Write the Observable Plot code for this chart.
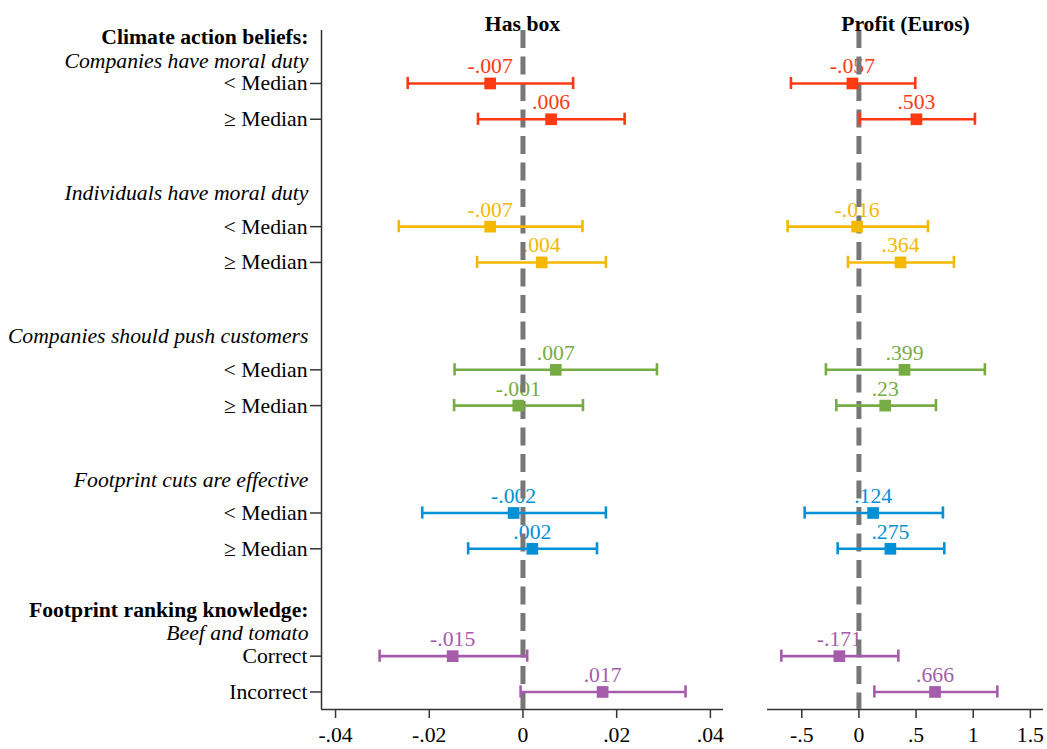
<!DOCTYPE html>
<html><head><meta charset="utf-8">
<script src="https://cdn.jsdelivr.net/npm/d3@7"></script>
<script src="https://cdn.jsdelivr.net/npm/@observablehq/plot@0.6"></script>
<style>
body{margin:0;background:#fff}
#wrap{position:relative;width:1047px;height:749px;background:#fff}
#left{position:absolute;left:0;top:0}
#right{position:absolute;left:740px;top:0}
</style>
</head><body><div id="wrap"><div id="left"></div><div id="right"></div></div>
<script>
// ---- data ----
const panelTitles = ["Has box", "Profit (Euros)"];
const sectionTitles = ["Climate action beliefs:", "Footprint ranking knowledge:"];
const sectionFirstGroup = [0, 4];
const groups = ["Companies have moral duty", "Individuals have moral duty", "Companies should push customers", "Footprint cuts are effective", "Beef and tomato"];
const levels = [["< Median", "≥ Median"], ["< Median", "≥ Median"], ["< Median", "≥ Median"], ["< Median", "≥ Median"], ["Correct", "Incorrect"]];
const groupColors = ["#ff3a12", "#f5b800", "#77ab43", "#0090d6", "#a55dab"];

const boxEst = [-0.007, 0.006, -0.007, 0.004, 0.007, -0.001, -0.002, 0.002, -0.015, 0.017];
const boxLo  = [-0.0246, -0.0096, -0.0265, -0.0098, -0.0146, -0.0147, -0.0215, -0.0117, -0.0306, -0.0005];
const boxHi  = [0.0107, 0.0217, 0.0127, 0.0177, 0.0286, 0.0128, 0.0177, 0.0158, 0.0009, 0.0347];

const profitEst = [-0.057, 0.503, -0.016, 0.364, 0.399, 0.23, 0.124, 0.275, -0.171, 0.666];
const profitLo  = [-0.595, 0.006, -0.624, -0.096, -0.289, -0.198, -0.475, -0.186, -0.679, 0.135];
const profitHi  = [0.493, 1.015, 0.604, 0.831, 1.102, 0.674, 0.735, 0.747, 0.345, 1.211];

const boxTicks = [-0.04, -0.02, 0, 0.02, 0.04];
const profitTicks = [-0.5, 0, 0.5, 1, 1.5];

// ---- layout helpers ----
const FONT = "Liberation Serif, Times New Roman, serif";
const FS = 21.7;
const fmt = v => v === 0 ? "0" : String(v).replace(/^(-?)0\./, "$1.");
const rows = [];
groups.forEach((g, gi) => levels[gi].forEach((lab, li) => rows.push({g: gi, label: lab, u: gi * 4 + li, color: groupColors[gi]})));
const yDomain = [-1.48, 17.49];
const subHeads = [], secHeads = [];
groups.forEach((g, gi) => {
  const hasSection = sectionFirstGroup.includes(gi);
  subHeads.push({text: g, u: gi * 4 + (hasSection ? -0.64 : -0.93)});
  if (hasSection) secHeads.push({text: sectionTitles[sectionFirstGroup.indexOf(gi)], u: gi * 4 - 1.285});
});
const AXC = "#333";

function panel({est, lo, hi, ticks, xDomain, width, marginLeft, marginRight, title, withY}) {
  const data = rows.map((r, i) => ({...r, est: est[i], lo: lo[i], hi: hi[i]}));
  const marks = [
    Plot.ruleY([yDomain[1]], {stroke: AXC, strokeWidth: 1.5}),
    Plot.axisX({ticks, tickFormat: fmt, tickSize: 9, tickPadding: 8, fontSize: FS, stroke: AXC, strokeWidth: 1.5, label: null}),
    Plot.text(data, {x: "est", y: "u", text: d => fmt(d.est), fill: "color", dy: -17, fontSize: FS}),
    Plot.ruleX([0], {stroke: "#777", strokeWidth: 5, strokeDasharray: "18,8.5"}),
    Plot.ruleY(data, {y: "u", x1: "lo", x2: "hi", stroke: "color", strokeWidth: 2.6}),
    Plot.ruleX(data, {x: "lo", y1: d => d.u - 0.17, y2: d => d.u + 0.17, stroke: "color", strokeWidth: 2.6}),
    Plot.ruleX(data, {x: "hi", y1: d => d.u - 0.17, y2: d => d.u + 0.17, stroke: "color", strokeWidth: 2.6}),
    Plot.dot(data, {x: "est", y: "u", symbol: "square", r: 6.6, fill: "color", stroke: "none"}),
    Plot.text([title], {frameAnchor: "top", dy: -15, fontSize: FS, fontWeight: "bold", fill: "#000"})
  ];
  if (withY) {
    marks.unshift(Plot.ruleX([xDomain[0]], {stroke: AXC, strokeWidth: 1.5}));
    marks.push(Plot.axisY({ticks: rows.map(r => r.u), tickFormat: u => rows.find(r => r.u === u).label, tickSize: 11, tickPadding: 3, fontSize: FS, stroke: AXC, strokeWidth: 1.5, label: null}));
    marks.push(Plot.text(subHeads, {frameAnchor: "left", y: "u", text: "text", dx: -13, textAnchor: "end", fontSize: FS, fontStyle: "italic", fill: "#000"}));
    marks.push(Plot.text(secHeads, {frameAnchor: "left", y: "u", text: "text", dx: -13, textAnchor: "end", fontSize: FS, fontWeight: "bold", fill: "#000"}));
  }
  return Plot.plot({
    width, height: 749,
    marginLeft, marginRight, marginTop: 30, marginBottom: 40,
    style: {fontFamily: FONT, fontSize: FS + "px", color: "#000", background: "white", overflow: "visible"},
    x: {domain: xDomain, label: null, axis: null},
    y: {domain: yDomain, reverse: true, label: null, axis: null},
    color: {type: "identity"},
    marks
  });
}

document.getElementById("left").appendChild(panel({est: boxEst, lo: boxLo, hi: boxHi, ticks: boxTicks, xDomain: [-0.043, 0.0428], width: 740, marginLeft: 321, marginRight: 17, title: panelTitles[0], withY: true}));
document.getElementById("right").appendChild(panel({est: profitEst, lo: profitLo, hi: profitHi, ticks: profitTicks, xDomain: [-0.8, 1.615], width: 307, marginLeft: 27, marginRight: 4, title: panelTitles[1], withY: false}));
</script>
</body></html>
